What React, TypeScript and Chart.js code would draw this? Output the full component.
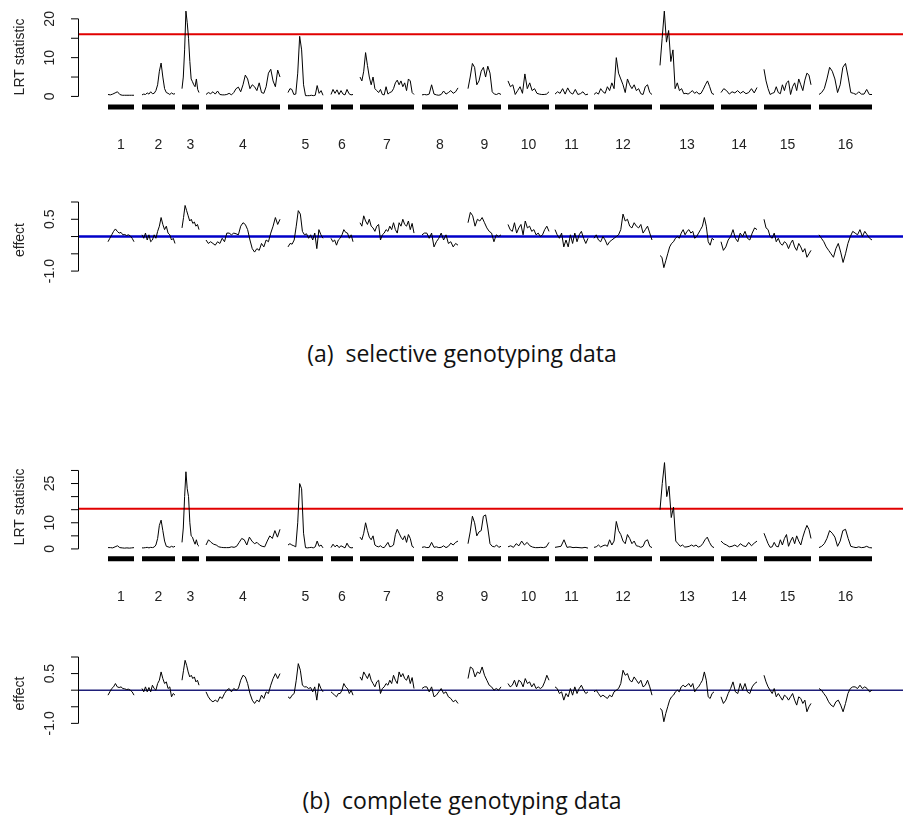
import { useEffect, useRef } from 'react'
import { Chart, registerables } from 'chart.js'

Chart.register(...registerables)

// chromosome layout (genome units, 0..825)
const chrNames = ['1', '2', '3', '4', '5', '6', '7', '8', '9', '10', '11', '12', '13', '14', '15', '16']
const chrStart = [30, 64, 104, 128, 210, 253, 282, 344, 390, 430, 477, 516, 582, 643, 686, 741]
const chrEnd = [56, 97, 121, 202, 245, 275, 336, 380, 423, 471, 510, 574, 636, 679, 733, 794]

// (a) selective genotyping, LRT
const lrtA = [
  [0.5, 0.4, 0.6, 0.9, 1.2, 0.5, 0.3, 0.3, 0.3, 0.3, 0.3, 0.3],
  [0.4, 0.6, 0.5, 0.9, 0.6, 1.2, 0.7, 0.8, 1.5, 3, 6.5, 8.6, 5, 2, 1, 0.8, 0.5, 0.9, 0.6, 0.7],
  [2, 5, 12, 22, 19, 15, 9, 4.5, 3.8, 3, 2.5, 4.5, 1.8, 1],
  [0.5, 1, 0.7, 1.2, 0.6, 1.4, 0.5, 0.4, 0.4, 0.5, 0.8, 0.4, 1, 2, 2.4, 1.2, 3, 5.5, 4.5, 2, 3, 2.5, 1.5, 3.5, 1, 0.8, 2.5, 6, 7, 4, 2.5, 6.8, 5],
  [1, 2, 1.8, 0.5, 0.6, 6, 15.5, 12, 3, 0.2, 0.2, 0.2, 0.3, 0.2, 0.3, 2.8, 0.8, 1.5, 0.3],
  [0.5, 1.8, 0.8, 1.7, 0.5, 1.5, 0.6, 0.4, 1.8, 0.7, 0.4, 0.5],
  [5, 4, 6.5, 11.3, 8, 5, 3, 5, 2, 1.5, 1, 1.8, 0.5, 0.4, 2.5, 0.6, 1, 1.2, 2, 3.5, 4.2, 3, 4, 2.5, 3.5, 1.5, 4.5, 4, 1, 0.5],
  [0.4, 0.5, 0.4, 0.6, 3, 0.6, 0.4, 0.3, 0.5, 1.4, 0.6, 1, 1.5, 0.8, 1.2, 2.2],
  [2, 5, 8.5, 7.5, 3, 4, 6.5, 7.5, 5, 7.8, 6, 1.2, 0.6, 0.5, 0.8, 0.5],
  [4, 2.5, 3, 0.5, 1.5, 2.5, 0.8, 5.8, 2, 3.5, 1.5, 2, 0.8, 0.6, 0.5, 0.5, 0.6, 1.2],
  [0.6, 1.2, 0.8, 2, 0.6, 2.2, 1, 0.6, 1.8, 0.5, 0.7, 1.2, 0.4, 0.6],
  [0.5, 1, 0.6, 2, 1.2, 0.8, 2.5, 1.5, 3.5, 2, 10, 6, 4.5, 3, 1, 4.5, 3, 2, 3, 1.5, 2, 0.7, 0.5, 2.5, 3, 1, 0.5],
  [8, 15, 22, 14, 17, 9, 12, 2, 3.5, 1.5, 2, 0.7, 0.8, 0.6, 1, 1.5, 0.8, 1.2, 0.6, 0.8, 1.8, 3, 4, 2.5, 0.8, 0.5],
  [1, 2, 1.5, 0.6, 1.2, 0.9, 1.5, 0.8, 1.3, 0.7, 1, 2, 0.9, 2.3],
  [7, 4, 2, 0.5, 0.8, 1, 2.5, 1, 0.7, 3, 1.5, 3.5, 4, 0.5, 2.5, 3.5, 1.5, 4.5, 3, 1.5, 4.2, 6, 5.5, 3],
  [0.5, 1, 2, 4.5, 7.5, 6.5, 4.5, 1, 3, 7.5, 8.5, 5, 1, 0.8, 0.5, 1.2, 0.6, 0.6, 1.8, 0.5, 0.5],
]

// (a) selective genotyping, effect
const effA = [
  [-0.15, -0.05, 0.05, 0.15, 0.22, 0.15, 0.1, 0.12, 0.05, 0.06, 0.03, 0.05, 0.02, -0.05, -0.15],
  [0.05, -0.05, 0.1, -0.1, 0.05, -0.15, -0.1, 0.05, -0.05, 0.15, 0.3, 0.55, 0.35, 0.2, 0.3, 0.1, 0.05, -0.1, -0.05, -0.2],
  [0.25, 0.55, 0.9, 0.75, 0.6, 0.45, 0.5, 0.38, 0.42, 0.3, 0.35, 0.2],
  [-0.1, -0.2, -0.15, -0.2, -0.25, -0.15, -0.2, -0.05, -0.15, 0.1, 0.1, 0.05, 0.1, 0.08, 0.05, 0.3, 0.4, 0.35, 0.2, -0.1, -0.35, -0.45, -0.35, -0.4, -0.2, -0.3, -0.1, -0.15, 0.1, 0.3, 0.55, 0.35, 0.5],
  [-0.3, -0.2, -0.22, -0.1, 0.3, 0.75, 0.65, 0.15, 0.05, 0.08, -0.05, 0.05, -0.1, 0.1, -0.35, 0.2, 0.05, -0.05],
  [-0.05, -0.15, -0.1, -0.25, -0.1, -0.05, 0.05, 0.2, 0.12, 0.1, -0.05, 0.05, -0.15],
  [0.4, 0.3, 0.6, 0.45, 0.35, 0.5, 0.3, 0.25, 0.15, 0.3, 0.35, -0.1, 0.05, 0.1, 0.2, 0.15, 0.3, 0.2, 0.4, 0.2, 0.1, 0.4, 0.3, 0.5, 0.35, 0.3, 0.45, 0.2, 0.38, 0.1],
  [0.05, 0.1, 0.1, -0.05, 0.1, -0.3, -0.15, -0.05, 0.1, -0.1, 0.05, -0.2, -0.15, -0.3, -0.2, -0.25],
  [0.4, 0.7, 0.6, 0.3, 0.5, 0.45, 0.55, 0.4, 0.25, 0.15, 0.1, -0.15, 0.05, 0.0, 0.05],
  [0.35, 0.2, 0.15, 0.4, 0.1, 0.25, 0.35, 0.05, 0.45, 0.25, 0.3, 0.15, 0.2, 0.05, 0.1, 0.0, 0.05, 0.2, 0.3, 0.15],
  [0.2, 0.05, -0.05, 0.1, -0.3, -0.1, -0.3, 0.05, -0.2, 0.1, -0.15, 0.05, 0.15, -0.05, -0.2, -0.05],
  [-0.05, 0.05, -0.1, -0.15, 0.0, -0.1, -0.25, -0.15, -0.1, -0.05, 0.0, 0.05, 0.2, 0.65, 0.45, 0.5, 0.3, 0.25, 0.4, 0.3, 0.25, 0.35, 0.1, 0.2, 0.3, 0.1, -0.1],
  [-0.55, -0.6, -0.9, -0.7, -0.5, -0.3, -0.2, -0.15, -0.05, 0.0, -0.05, 0.1, 0.2, 0.05, 0.15, 0.2, 0.1, 0.15, -0.05, 0.0, 0.1, 0.2, 0.3, 0.55, 0.3, -0.15, -0.25, -0.05, -0.1],
  [-0.15, -0.4, -0.3, -0.1, 0.0, 0.2, -0.05, -0.15, 0.1, 0.0, 0.15, -0.05, -0.1, 0.1, 0.25, 0.2],
  [0.5, 0.25, 0.2, 0.0, -0.05, 0.1, -0.15, -0.05, -0.2, -0.25, -0.15, -0.2, -0.35, -0.2, -0.1, -0.3, -0.4, -0.2, -0.3, -0.45, -0.35, -0.6, -0.5, -0.4],
  [0.05, -0.05, -0.15, -0.3, -0.4, -0.5, -0.6, -0.35, -0.2, -0.45, -0.75, -0.5, -0.2, 0.0, 0.15, 0.1, 0.05, 0.2, 0.0, 0.15, 0.05, -0.05, -0.1],
]

// (b) complete genotyping, LRT
const lrtB = [
  [0.5, 0.5, 0.4, 0.8, 1.2, 0.5, 0.4, 0.3, 0.4, 0.3, 0.4, 0.5],
  [0.4, 0.4, 0.5, 0.6, 0.4, 0.6, 0.5, 0.7, 1.5, 4, 9, 11, 7, 3, 1, 0.8, 0.6, 1, 0.7, 1],
  [2.5, 8, 20, 29.5, 23, 20, 10, 5, 4.5, 3, 1.8, 3.5, 1.5, 1],
  [1.5, 3.5, 2.5, 1.8, 1.5, 0.8, 0.6, 0.5, 0.5, 0.5, 0.8, 0.6, 1, 2.5, 4, 3.5, 1.5, 4.5, 3, 2, 2.5, 1.5, 1, 0.8, 3, 5, 4, 7, 4.5, 7.5],
  [1.5, 2, 1.5, 1.2, 0.8, 10, 25, 23, 6, 0.5, 0.4, 0.5, 0.6, 0.4, 0.8, 3, 1, 1.5, 0.4],
  [0.5, 1.8, 0.8, 1.5, 0.5, 1.2, 0.8, 0.4, 2.2, 0.8, 0.4, 0.5],
  [4.5, 3.5, 6, 10, 7, 4.5, 3.5, 5, 1.5, 1, 0.8, 1.2, 0.6, 0.5, 1.5, 2.5, 0.8, 1, 1.5, 5.5, 7.5, 6, 4.5, 3.5, 5, 2.5, 5.5, 4, 1, 0.5],
  [0.6, 0.8, 0.5, 0.6, 2.5, 0.6, 0.8, 0.5, 0.6, 1.2, 0.5, 1, 2.2, 1.5, 2.5, 3],
  [2, 6.5, 12.5, 10, 5, 6.5, 7, 12.5, 13, 8, 2, 1, 0.8, 1.5, 0.6, 1],
  [0.8, 1.2, 0.6, 2, 1.2, 3, 1.5, 2.5, 1.2, 0.7, 0.5, 0.5, 0.6, 0.5, 0.8, 2.5],
  [0.6, 0.8, 1, 3.5, 0.6, 0.8, 0.5, 0.6, 0.5, 0.4, 0.6, 0.3],
  [0.6, 0.8, 1.5, 0.7, 1.2, 1.5, 1, 3.5, 1.5, 3, 10.5, 7, 5.5, 3, 2, 5.5, 4, 2, 3, 1.2, 1, 0.6, 1, 3, 3.5, 1, 0.5],
  [15, 25, 33, 20, 24, 12, 16, 3, 2, 1, 1.5, 0.7, 0.8, 1, 1.5, 1, 1.5, 0.7, 1, 2, 3.5, 4.5, 2.5, 1, 0.5],
  [3, 2, 1.5, 0.8, 1, 1.5, 0.8, 2, 1.2, 0.9, 2.5, 1.2, 2.2, 3],
  [6, 4, 2, 0.6, 0.8, 2.5, 1, 0.8, 3.5, 1.5, 4, 5.5, 1, 3, 4.5, 2, 5, 3, 1.5, 4.5, 7, 9, 7.5, 4],
  [0.5, 1, 2, 4, 7, 6, 4.5, 1, 3, 7, 7.5, 4, 1, 0.7, 0.5, 0.8, 0.5, 0.6, 1, 0.5, 0.4],
]

// (b) complete genotyping, effect
const effB = [
  [-0.15, -0.05, 0.05, 0.1, 0.2, 0.1, 0.08, 0.1, 0.05, 0.04, 0.02, 0.03, 0.0, -0.05, -0.15],
  [0.05, -0.05, 0.1, -0.05, 0.08, -0.05, 0.15, 0.05, 0.0, 0.2, 0.3, 0.55, 0.35, 0.2, 0.25, 0.05, 0.1, -0.2, -0.1, -0.15],
  [0.3, 0.6, 0.9, 0.75, 0.55, 0.4, 0.45, 0.35, 0.4, 0.25, 0.3, 0.15],
  [-0.05, -0.2, -0.3, -0.35, -0.3, -0.35, -0.2, -0.25, -0.1, 0.0, 0.05, -0.05, 0.05, 0.0, 0.05, 0.3, 0.45, 0.4, 0.2, -0.1, -0.3, -0.4, -0.3, -0.35, -0.15, -0.25, -0.05, -0.1, 0.15, 0.35, 0.5, 0.35, 0.5],
  [-0.2, -0.25, -0.15, -0.1, 0.3, 0.8, 0.6, 0.15, 0.1, 0.1, 0.05, 0.08, -0.05, 0.1, -0.3, 0.2, 0.05, -0.05],
  [-0.05, -0.1, -0.15, -0.2, -0.1, -0.1, 0.0, 0.2, 0.1, 0.05, -0.1, 0.0, -0.15],
  [0.4, 0.3, 0.55, 0.45, 0.35, 0.5, 0.3, 0.2, 0.1, 0.25, 0.3, -0.1, 0.05, 0.1, 0.2, 0.15, 0.3, 0.2, 0.45, 0.3, 0.2, 0.55, 0.4, 0.5, 0.35, 0.3, 0.45, 0.2, 0.38, 0.05],
  [0.05, 0.1, 0.1, -0.05, 0.1, -0.2, -0.15, -0.05, 0.05, -0.1, -0.05, -0.2, -0.25, -0.35, -0.3, -0.4],
  [0.35, 0.7, 0.65, 0.4, 0.55, 0.5, 0.7, 0.45, 0.3, 0.15, 0.1, 0.0, 0.05, 0.0, 0.1],
  [0.2, 0.1, 0.15, 0.3, 0.1, 0.3, 0.25, 0.1, 0.35, 0.2, 0.25, 0.1, 0.2, 0.05, 0.1, 0.05, 0.1, 0.25, 0.45, 0.3],
  [0.1, 0.05, -0.1, -0.05, -0.3, -0.1, -0.2, 0.05, -0.15, 0.1, -0.1, 0.05, 0.15, 0.0, -0.1, -0.05],
  [-0.05, 0.0, -0.1, -0.2, -0.15, -0.2, -0.25, -0.15, -0.2, -0.05, 0.0, 0.05, 0.2, 0.6, 0.45, 0.5, 0.3, 0.25, 0.4, 0.3, 0.2, 0.3, 0.1, 0.15, 0.3, 0.1, -0.15],
  [-0.55, -0.6, -0.95, -0.7, -0.5, -0.3, -0.2, -0.15, -0.05, 0.0, -0.05, 0.1, 0.15, 0.1, 0.15, 0.2, 0.1, 0.2, -0.05, 0.05, 0.1, 0.2, 0.3, 0.55, 0.3, -0.2, -0.25, -0.1, -0.05],
  [-0.2, -0.4, -0.3, -0.1, 0.05, 0.25, -0.05, -0.1, 0.2, 0.0, 0.2, -0.05, -0.1, 0.1, 0.2, 0.25],
  [0.45, 0.25, 0.1, 0.0, -0.1, 0.05, -0.2, -0.1, -0.2, -0.3, -0.15, -0.2, -0.3, -0.2, -0.1, -0.3, -0.45, -0.2, -0.25, -0.4, -0.3, -0.65, -0.5, -0.4],
  [0.05, 0.0, -0.1, -0.2, -0.35, -0.45, -0.5, -0.35, -0.3, -0.45, -0.65, -0.4, -0.1, 0.05, 0.1, 0.1, 0.05, 0.15, 0.05, 0.1, 0.05, -0.05, 0.0],
]

// horizontal reference lines
const thresholdA = 16
const thresholdB = 15.4
const barLevelA = -2.7
const barLevelB = -3.8

// y axis ticks
const lrtTicksA = [0, 5, 10, 15, 20]
const lrtLabelsA = ['0', '', '10', '', '20']
const lrtTicksB = [0, 5, 10, 15, 20, 25, 30]
const lrtLabelsB = ['0', '', '10', '', '', '25', '']
const effTicks = [-1, -0.5, 0, 0.5, 1]
const effLabels = ['-1.0', '', '', '0.5', '']

const X_MAX = 825
const FONT = '"Liberation Sans", Arial, sans-serif'

function traceData(series: number[][]) {
  const pts: { x: number; y: number | null }[] = []
  series.forEach((vals, c) => {
    const s = chrStart[c]
    const e = chrEnd[c]
    vals.forEach((v, i) => pts.push({ x: s + ((e - s) * i) / (vals.length - 1), y: v }))
    if (c < series.length - 1) pts.push({ x: (e + chrStart[c + 1]) / 2, y: null })
  })
  return pts
}

function barData(level: number) {
  const pts: { x: number; y: number | null }[] = []
  chrStart.forEach((s, c) => {
    pts.push({ x: s, y: level }, { x: chrEnd[c], y: level })
    if (c < chrStart.length - 1) pts.push({ x: (chrEnd[c] + chrStart[c + 1]) / 2, y: null })
  })
  return pts
}

// R-style left axis: spine only across the tick range, rotated labels
const rAxis = {
  id: 'rAxis',
  afterDraw(chart: any, _args: any, opts: any) {
    const { ctx, chartArea, scales } = chart
    const y = scales.y
    const x0 = chartArea.left
    const ticks: number[] = opts.ticks
    const p = (v: number) => y.getPixelForValue(v)
    ctx.save()
    ctx.strokeStyle = '#000'
    ctx.lineWidth = 1
    ctx.beginPath()
    ctx.moveTo(x0 + 0.5, p(ticks[0]))
    ctx.lineTo(x0 + 0.5, p(ticks[ticks.length - 1]))
    ticks.forEach((t) => {
      ctx.moveTo(x0 + 0.5, p(t))
      ctx.lineTo(x0 - 7, p(t))
    })
    ctx.stroke()
    ctx.fillStyle = '#222'
    ctx.textAlign = 'center'
    ctx.textBaseline = 'middle'
    ctx.font = `14px ${FONT}`
    ticks.forEach((t, i) => {
      if (!opts.labels[i]) return
      ctx.save()
      ctx.translate(50, p(t))
      ctx.rotate(-Math.PI / 2)
      ctx.fillText(opts.labels[i], 0, 0)
      ctx.restore()
    })
    ctx.save()
    ctx.translate(20, (chartArea.top + chartArea.bottom) / 2 + (opts.titleShift || 0))
    ctx.rotate(-Math.PI / 2)
    ctx.fillText(opts.title, 0, 0)
    ctx.restore()
    ctx.restore()
  },
}

type PanelPropsT = {
  top: number
  height: number
  datasets: any[]
  yMin: number
  yMax: number
  padTop: number
  padBottom: number
  xAxisHeight?: number
  axis: { ticks: number[]; labels: string[]; title: string; titleShift?: number }
}

const Panel = ({ top, height, datasets, yMin, yMax, padTop, padBottom, xAxisHeight, axis }: PanelPropsT) => {
  const canvasRef = useRef<HTMLCanvasElement>(null)

  useEffect(() => {
    const centers = chrStart.map((s, i) => (s + chrEnd[i]) / 2)
    const chart = new Chart(canvasRef.current!, {
      type: 'line',
      data: { datasets },
      plugins: [rAxis],
      options: {
        animation: false,
        responsive: false,
        parsing: false,
        layout: { padding: { left: 78, right: 5, top: padTop, bottom: padBottom } },
        elements: { point: { radius: 0 }, line: { tension: 0 } },
        plugins: {
          legend: { display: false },
          tooltip: { enabled: false },
          rAxis: axis,
        } as any,
        scales: {
          x: {
            type: 'linear',
            min: 0,
            max: X_MAX,
            display: !!xAxisHeight,
            grid: { display: false },
            border: { display: false },
            afterBuildTicks: (s: any) => {
              s.ticks = centers.map((v) => ({ value: v }))
            },
            afterFit: (s: any) => {
              if (xAxisHeight) s.height = xAxisHeight
            },
            ticks: {
              autoSkip: false,
              maxRotation: 0,
              padding: 19,
              color: '#222',
              font: { family: FONT, size: 14 },
              callback: (_v: any, i: number) => chrNames[i],
            },
          },
          y: { type: 'linear', min: yMin, max: yMax, display: false },
        },
      },
    })
    return () => chart.destroy()
  }, [])

  return (
    <canvas
      ref={canvasRef}
      width={908}
      height={height}
      style={{ position: 'absolute', left: 0, top, width: 908, height }}
    />
  )
}

const trace = (series: number[][]) => ({
  data: traceData(series),
  borderColor: '#000',
  borderWidth: 1,
  spanGaps: false,
})
const hline = (v: number, color: string, w: number) => ({
  data: [
    { x: 0, y: v },
    { x: X_MAX, y: v },
  ],
  borderColor: color,
  borderWidth: w,
})
const bars = (level: number) => ({
  data: barData(level),
  borderColor: '#000',
  borderWidth: 5,
  borderCapStyle: 'butt',
  spanGaps: false,
})

const titleStyle = {
  position: 'absolute' as const,
  left: 0,
  width: 924,
  textAlign: 'center' as const,
  fontFamily: '"Open Sans", sans-serif',
  fontSize: 23,
  color: '#111',
  whiteSpace: 'pre' as const,
}

export default function App() {
  return (
    <div style={{ position: 'absolute', left: 0, top: 0, width: 908, height: 824, background: '#fff' }}>
      <Panel
        top={0}
        height={165}
        datasets={[trace(lrtA), bars(barLevelA), hline(thresholdA, 'rgb(225,0,0)', 2)]}
        yMin={-3.5}
        yMax={22.8}
        padTop={8}
        padBottom={0}
        xAxisHeight={55}
        axis={{ ticks: lrtTicksA, labels: lrtLabelsA, title: 'LRT statistic', titleShift: -2 }}
      />
      <Panel
        top={190}
        height={100}
        datasets={[trace(effA), hline(0, 'rgb(0,0,200)', 2.5)]}
        yMin={-1.2}
        yMax={1.0}
        padTop={12}
        padBottom={12}
        axis={{ ticks: effTicks, labels: effLabels, title: 'effect', titleShift: 0 }}
      />
      <div style={{ ...titleStyle, top: 337 }}>{'(a)  selective genotyping data'}</div>
      <Panel
        top={450}
        height={165}
        datasets={[trace(lrtB), bars(barLevelB), hline(thresholdB, 'rgb(225,0,0)', 2)]}
        yMin={-5}
        yMax={34}
        padTop={10}
        padBottom={0}
        xAxisHeight={53}
        axis={{ ticks: lrtTicksB, labels: lrtLabelsB, title: 'LRT statistic', titleShift: -4 }}
      />
      <Panel
        top={645}
        height={100}
        datasets={[trace(effB), hline(0, 'rgb(30,30,120)', 1.5)]}
        yMin={-1.2}
        yMax={1.0}
        padTop={12}
        padBottom={15}
        axis={{ ticks: effTicks, labels: effLabels, title: 'effect', titleShift: 0 }}
      />
      <div style={{ ...titleStyle, top: 784 }}>{'(b)  complete genotyping data'}</div>
    </div>
  )
}
